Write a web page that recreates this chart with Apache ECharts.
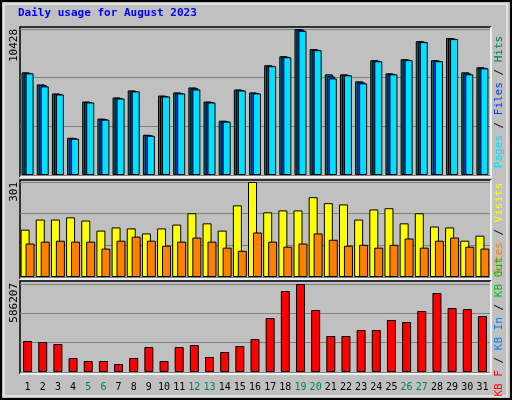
<!DOCTYPE html><html><head><meta charset="utf-8">
<script src="https://cdn.jsdelivr.net/npm/echarts@6/dist/echarts.min.js"></script>
<style>html,body{margin:0;padding:0;background:#fff}#c{width:512px;height:400px}</style></head><body><div id="c"></div>
<script>
const days=[];for(let i=1;i<=31;i++)days.push(String(i));
const hits=[7335,6470,5825,2660,5250,4030,5540,6040,2875,5680,5900,6255,5250,3880,6110,5900,7840,8485,10428,8990,7190,7190,6690,8200,7260,8270,9560,8200,9780,7335,7695];
const files=[7290,6420,5790,2630,5215,3990,5500,6000,2840,5640,5860,6200,5215,3845,6075,5860,7800,8450,10380,8950,7050,7150,6620,8160,7225,8235,9520,8160,9740,7260,7655];
const pages=[7260,6330,5750,2590,5180,3955,5465,5970,2800,5610,5825,6110,5180,3810,6040,5825,7770,8410,10300,8915,6900,7120,6545,8125,7190,8200,9490,8125,9710,7190,7620];
const visits=[150,182,182,189,179,147,157,154,138,154,166,202,170,147,227,301,205,211,211,253,234,230,182,214,218,170,202,160,157,115,131];
const sites=[106,112,115,112,112,90,115,128,115,99,112,125,112,93,83,141,112,96,106,138,118,99,102,93,102,122,93,115,125,96,90];
const kbytes=[206500,199800,186500,93250,73300,73300,53300,93250,166500,73300,166500,179800,99900,133200,173200,219800,359700,539500,586207,413000,239800,239800,279800,279800,346400,333100,406300,526200,426300,419600,373000];
const maxes=[10428,301,586207];
const F='DejaVu Sans Mono';
const grids=[{left:20,right:22,top:29,height:146},{left:20,right:22,top:182,height:95},{left:20,right:22,top:284,height:88}];
const greenDays=['5','6','12','13','19','20','26','27'];
const xAxis=grids.map((g,i)=>({type:'category',gridIndex:i,data:days,axisTick:{show:false},axisLine:{show:false},
 axisLabel:{show:i===2,interval:0,fontFamily:F,fontSize:10,margin:10,color:(v)=>greenDays.includes(v)?'#00805c':'#000'}}));
const yAxis=maxes.map((m,i)=>({type:'value',gridIndex:i,min:0,max:m,interval:m/3,
 axisLine:{show:false},axisTick:{show:false},
 axisLabel:{show:false},
 splitLine:{show:true,lineStyle:{color:'#808080',width:1}}}));
const b={borderColor:'#000',borderWidth:1};
const series=[
 {type:'bar',xAxisIndex:0,yAxisIndex:0,data:hits,barWidth:8,barGap:'-75%',itemStyle:{color:'#00805c',...b}},
 {type:'bar',xAxisIndex:0,yAxisIndex:0,data:files,barWidth:8,itemStyle:{color:'#0040ff',...b}},
 {type:'bar',xAxisIndex:0,yAxisIndex:0,data:pages,barWidth:8,itemStyle:{color:'#00e0ff',...b}},
 {type:'bar',xAxisIndex:1,yAxisIndex:1,data:visits,barWidth:9,barGap:'-45%',itemStyle:{color:'#ffff00',...b}},
 {type:'bar',xAxisIndex:1,yAxisIndex:1,data:sites,barWidth:9,itemStyle:{color:'#ff8000',...b}},
 {type:'bar',xAxisIndex:2,yAxisIndex:2,data:kbytes,barWidth:9,itemStyle:{color:'#ff0000',...b}}
];
const panelRects=[[20,27,471,150],[20,180,471,99],[20,281,471,93]];
const graphic=[
 {type:'rect',shape:{x:1,y:1,width:510,height:398},style:{fill:'#c0c0c0',stroke:'#000',lineWidth:2},z:-20},
 {type:'rect',shape:{x:4,y:4,width:503,height:392},style:{fill:'none',stroke:'#fff',lineWidth:1},z:-19},
 {type:'text',left:18,top:8,style:{text:'Daily usage for August 2023',fill:'#0000ff',font:'bold 11px "DejaVu Sans Mono"'}}
];
panelRects.forEach((r,i)=>{
 graphic.push({type:'rect',shape:{x:r[0],y:r[1],width:r[2],height:r[3]},style:{fill:'#c0c0c0',stroke:'none'},z:-10});
 graphic.push({type:'polyline',shape:{points:[[r[0],r[1]+r[3]],[r[0],r[1]],[r[0]+r[2],r[1]]]},style:{stroke:'#000',lineWidth:1.5,fill:'none'},z:-9});
 graphic.push({type:'polyline',shape:{points:[[r[0],r[1]+r[3]],[r[0]+r[2],r[1]+r[3]],[r[0]+r[2],r[1]]]},style:{stroke:'#fff',lineWidth:1.5,fill:'none'},z:-9});
 graphic.push({type:'text',x:14,y:r[1]+2,rotation:Math.PI/2,style:{text:String(maxes[i]),fill:'#000',font:'11px "DejaVu Sans Mono"',align:'right',verticalAlign:'middle'}});
});
function vtext(cx,cy,parts){
 const rich={};let t='';
 parts.forEach((p,i)=>{rich['s'+i]={fill:p[1],font:'11px "DejaVu Sans Mono"'};t+='{s'+i+'|'+p[0]+'}';});
 graphic.push({type:'text',x:cx,y:cy,rotation:Math.PI/2,style:{text:t,rich:rich,align:'center',verticalAlign:'middle'}});
}
vtext(499,102,[['Pages','#00e0ff'],[' / ','#000'],['Files','#0040ff'],[' / ','#000'],['Hits','#00805c']]);
vtext(499,229,[['Sites','#ff8000'],[' / ','#000'],['Visits','#ffff00']]);
vtext(499,327,[['KB F','#ff0000'],[' / ','#000'],['KB In','#0080ff'],[' / ','#000'],['KB Out','#00c000']]);
const ch=echarts.init(document.getElementById('c'));
ch.setOption({animation:false,backgroundColor:'#fff',grid:grids,xAxis,yAxis,series,graphic});
</script></body></html>
